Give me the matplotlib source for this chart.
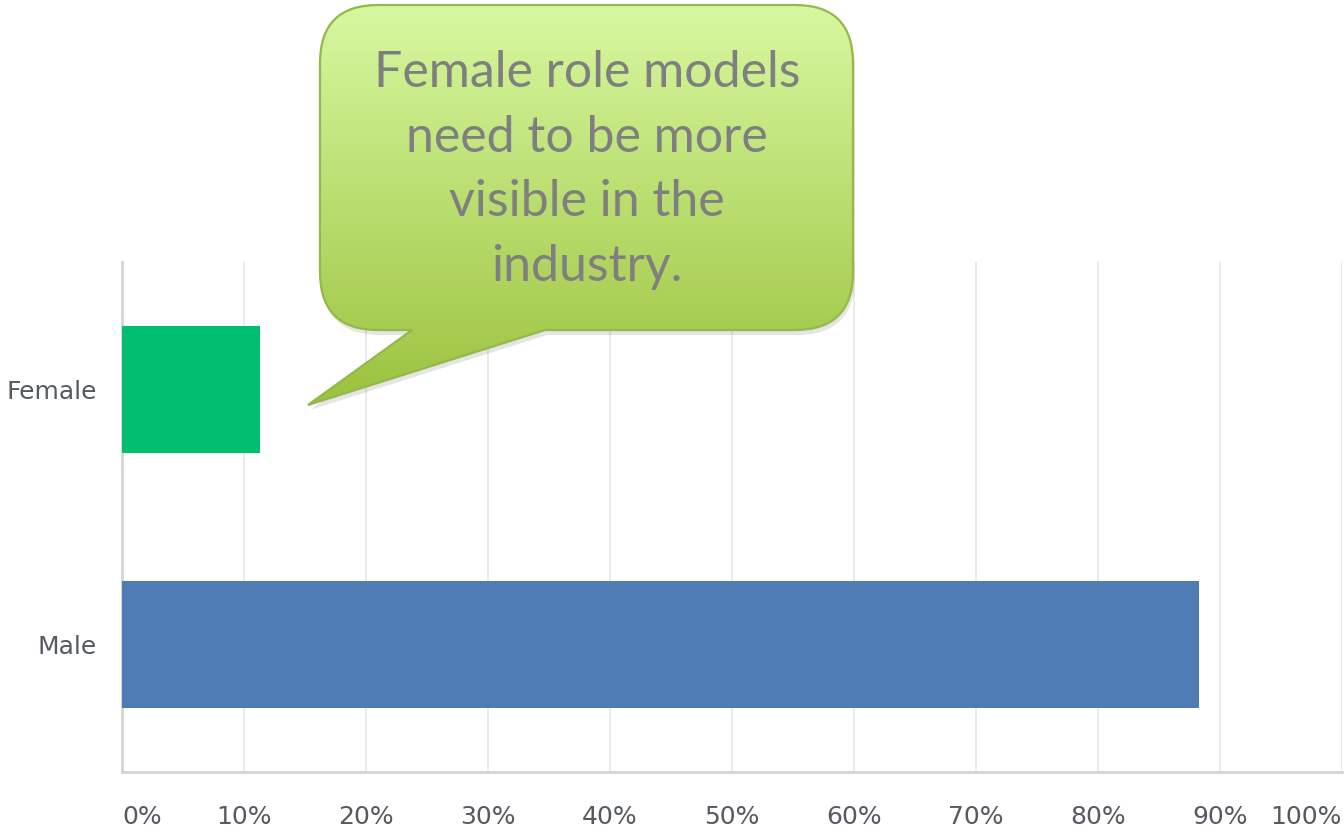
import numpy as np
import matplotlib.pyplot as plt
from matplotlib.path import Path
from matplotlib.patches import PathPatch

categories = ['Male', 'Female']
shares = [88.3, 11.3]
bar_colors = ['#4f7cb5', '#00bf6f']
tick_values = [0, 10, 20, 30, 40, 50, 60, 70, 80, 90, 100]
tick_labels = [f'{v}%' for v in tick_values]
callout_text = 'Female role models\nneed to be more\nvisible in the\nindustry.'


def speech_bubble_path(x0, x1, y0, y1, r, base_left, base_right, tip):
    verts = [
        (x0 + r, y0), (x1 - r, y0),
        (x1, y0), (x1, y0 + r),
        (x1, y1 - r),
        (x1, y1), (x1 - r, y1),
        (base_right, y1), tip, (base_left, y1),
        (x0 + r, y1),
        (x0, y1), (x0, y1 - r),
        (x0, y0 + r),
        (x0, y0), (x0 + r, y0),
        (x0 + r, y0),
    ]
    codes = [Path.MOVETO, Path.LINETO,
             Path.CURVE3, Path.CURVE3,
             Path.LINETO,
             Path.CURVE3, Path.CURVE3,
             Path.LINETO, Path.LINETO, Path.LINETO,
             Path.LINETO,
             Path.CURVE3, Path.CURVE3,
             Path.LINETO,
             Path.CURVE3, Path.CURVE3,
             Path.CLOSEPOLY]
    return Path(verts, codes)


fig = plt.figure(figsize=(13.44, 8.34), dpi=100)
ax = fig.add_axes([122 / 1344, 62 / 834, 1220 / 1344, 510 / 834])

y = np.arange(len(categories))
ax.barh(y, shares, height=0.5, color=bar_colors, zorder=3)
ax.set_xlim(0, 100)
ax.set_ylim(-0.5, 1.5)
ax.set_yticks(y)
ax.set_yticklabels(categories)
ax.set_xticks(tick_values)
ax.set_xticklabels(tick_labels)
labels = ax.get_xticklabels()
labels[0].set_horizontalalignment('left')
labels[-1].set_horizontalalignment('right')

ax.tick_params(axis='x', length=0, pad=24, labelsize=18, labelcolor='#555a61')
ax.tick_params(axis='y', length=0, pad=18, labelsize=18, labelcolor='#555a61')
ax.grid(axis='x', color='#e8e8e8', linewidth=1.3, zorder=0)
for side in ['top', 'right']:
    ax.spines[side].set_visible(False)
for side in ['left', 'bottom']:
    ax.spines[side].set_color('#d4d4d4')
    ax.spines[side].set_linewidth(2)

# callout overlay in pixel coordinates
ov = fig.add_axes([0, 0, 1, 1], zorder=5)
ov.axis('off')
ov.patch.set_alpha(0)

bubble = speech_bubble_path(320, 853, 5, 330, 58, 412, 545, (308, 405))

shadow_path = Path(bubble.vertices + np.array([2, 5]), bubble.codes)
ov.add_patch(PathPatch(shadow_path, facecolor='#000000', alpha=0.10,
                       edgecolor='none', zorder=1))

top = np.array([216, 248, 160]) / 255
bottom = np.array([156, 194, 62]) / 255
t = np.linspace(0, 1, 400)[:, None, None]
grad = top + (bottom - top) * t
grad = np.repeat(grad, 2, axis=1)
im = ov.imshow(grad, extent=[300, 870, 405, 5], aspect='auto', zorder=2,
               interpolation='bilinear')
clip = PathPatch(bubble, facecolor='none', edgecolor='none',
                 transform=ov.transData)
ov.add_patch(clip)
im.set_clip_path(clip)
ov.add_patch(PathPatch(bubble, facecolor='none', edgecolor='#93b84c',
                       linewidth=1.6, zorder=3))
ov.set_xlim(0, 1344)
ov.set_ylim(834, 0)

ov.text(587, 170, callout_text, ha='center', va='center', fontsize=36,
        family='Lato', color='#7f7f7f', linespacing=1.5, zorder=4)

fig.savefig('out.png', dpi=100)
